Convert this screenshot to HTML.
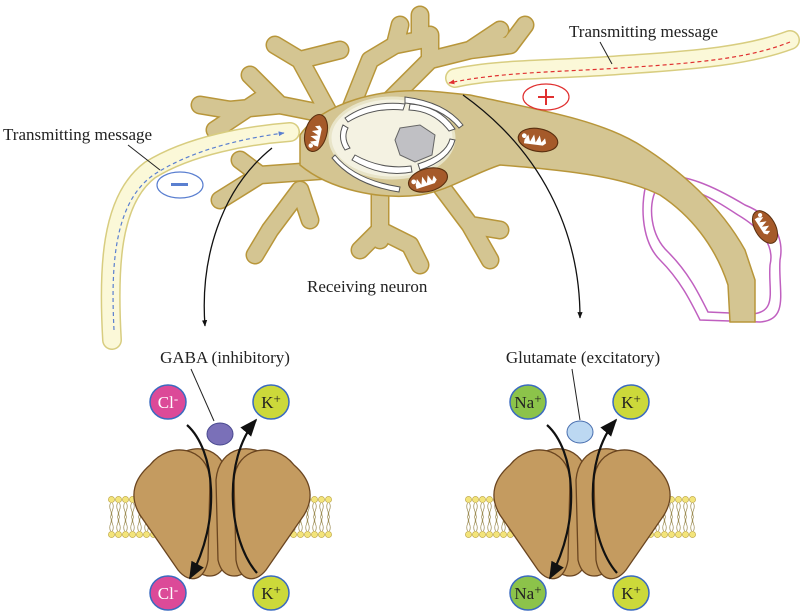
<!DOCTYPE html>
<html><head><meta charset="utf-8"><style>
html,body{margin:0;padding:0;background:#fff;}
svg{display:block;}
text{font-family:"Liberation Serif",serif;}
</style></head><body>
<svg width="800" height="611" viewBox="0 0 800 611" xmlns="http://www.w3.org/2000/svg">
<defs>
<pattern id="head" x="108" y="496" width="7" height="7" patternUnits="userSpaceOnUse">
<circle cx="3.5" cy="3.5" r="3.1" fill="#f3e47a" stroke="#b8a040" stroke-width="0.6"/>
</pattern>
<pattern id="tail" x="108" y="503" width="7" height="28" patternUnits="userSpaceOnUse">
<path d="M2.5,0 q-1.5,3.5 0,7 t0,7 M4.5,0 q1.5,3.5 0,7 t0,7 M2.5,28 q-1.5,-3.5 0,-7 t0,-7 M4.5,28 q1.5,-3.5 0,-7 t0,-7" stroke="#9a8a50" stroke-width="0.7" fill="none"/>
</pattern>
<marker id="ah" viewBox="0 0 10 10" refX="9" refY="5" markerWidth="8" markerHeight="8" orient="auto"><path d="M0,1 L10,5 L0,9 Z" fill="#111"/></marker>
<marker id="ahb" viewBox="0 0 10 10" refX="9" refY="5" markerWidth="5" markerHeight="5" orient="auto"><path d="M0,1 L10,5 L0,9 Z" fill="#111"/></marker>
<marker id="ab" viewBox="0 0 10 10" refX="9" refY="5" markerWidth="5" markerHeight="5" orient="auto"><path d="M0,1 L10,5 L0,9 Z" fill="#5a7fd0"/></marker>
<marker id="ar" viewBox="0 0 10 10" refX="9" refY="5" markerWidth="5" markerHeight="5" orient="auto"><path d="M0,1 L10,5 L0,9 Z" fill="#e03030"/></marker>
<g id="mito"><ellipse cx="0" cy="0" rx="21" ry="12" fill="#a55a2a" stroke="#5a3010" stroke-width="1.2"/><path d="M-14,2 l3,-6 l3,7 l3,-8 l3,8 l3,-8 l3,7 l3,-5 l2,5 l-3,3 l-20,1 z" fill="#fff"/><circle cx="-15" cy="-2" r="2.5" fill="#fff"/></g>
</defs>

<path d="M648,178 C680,168 720,190 745,205 C770,215 785,235 780,260 C778,290 790,320 760,322 L700,320 C690,300 680,280 660,260 C640,240 640,200 648,178 Z" fill="none" stroke="#c060c0" stroke-width="1.5"/>
<path d="M656,190 C685,180 715,200 738,215 C760,228 775,245 770,265 C768,290 778,312 752,314 L708,312 C698,292 688,272 668,252 C650,235 648,205 656,190 Z" fill="none" stroke="#c060c0" stroke-width="1.5"/>
<use href="#mito" transform="translate(765,227) rotate(60) scale(0.85)"/>

<g stroke="#b8963a" fill="#d4c592">
<g fill="none" stroke-linecap="round" stroke-linejoin="round">
<g stroke="#b8963a" stroke-width="19">
<path d="M390,150 L330,115 L280,105 L250,75 M280,105 L230,110 L200,105 M260,100 L215,130 M330,115 L300,60 L275,45 M300,60 L340,50 M350,110 L370,60 L395,45 M395,45 L420,40 M420,40 L420,15 M395,45 L400,25 M390,100 L430,60 L470,50 L510,45 M470,50 L500,30 M510,45 L525,25 M430,60 L430,35 M330,170 L260,175 L220,200 M260,175 L240,160 M300,190 L270,230 L255,255 M300,190 L310,220 M380,190 L380,240 M380,230 L360,250 M380,230 L410,245 L420,265 M440,185 L470,225 L490,260 M470,225 L500,230"/>
</g>
<g stroke="#d4c592" stroke-width="16">
<path d="M390,150 L330,115 L280,105 L250,75 M280,105 L230,110 L200,105 M260,100 L215,130 M330,115 L300,60 L275,45 M300,60 L340,50 M350,110 L370,60 L395,45 M395,45 L420,40 M420,40 L420,15 M395,45 L400,25 M390,100 L430,60 L470,50 L510,45 M470,50 L500,30 M510,45 L525,25 M430,60 L430,35 M330,170 L260,175 L220,200 M260,175 L240,160 M300,190 L270,230 L255,255 M300,190 L310,220 M380,190 L380,240 M380,230 L360,250 M380,230 L410,245 L420,265 M440,185 L470,225 L490,260 M470,225 L500,230"/>
</g>
</g>
<path d="M300,135 C320,105 380,85 440,92 L470,95 C540,110 600,120 640,145 C680,170 720,205 745,250 L755,280 L755,322 L730,322 L728,285 C715,245 690,215 660,195 C620,175 560,170 500,165 C470,175 450,190 420,195 C380,200 330,190 300,165 Z" stroke-width="1.5"/>
</g>
<ellipse cx="392" cy="138" rx="62" ry="40" fill="#f4f2e2" stroke="#e8e4c8" stroke-width="3"/>
<g fill="#fff" stroke="#555" stroke-width="1">
<path d="M345,118 q25,-18 60,-14 l-2,6 q-30,-3 -55,12 z"/>
<path d="M410,104 q30,2 45,25 l-6,2 q-15,-20 -40,-21 z"/>
<path d="M455,140 q-5,20 -35,30 l-2,-6 q28,-9 32,-25 z"/>
<path d="M412,172 q-30,6 -60,-12 l3,-5 q27,15 56,11 z"/>
<path d="M345,150 q-8,-12 -2,-25 l5,3 q-5,10 2,20 z"/>
<path d="M405,97 q40,5 58,28 l-4,3 q-18,-22 -54,-25 z"/>
<path d="M335,155 q20,25 65,32 l-1,5 q-45,-7 -67,-34 z"/>
</g>
<path d="M400,128 L420,125 L435,135 L432,155 L415,162 L400,155 L395,140 Z" fill="#c0c0c4" stroke="#666" stroke-width="1"/>
<use href="#mito" transform="translate(316,133) rotate(-75) scale(0.9)"/>
<use href="#mito" transform="translate(428,180) rotate(-15) scale(0.95)"/>
<use href="#mito" transform="translate(538,140) rotate(10) scale(0.95)"/>

<path d="M112,340 C108,270 110,200 150,170 C190,145 250,135 290,132" fill="none" stroke="#d8cd80" stroke-width="20" stroke-linecap="round"/>
<path d="M112,340 C108,270 110,200 150,170 C190,145 250,135 290,132" fill="none" stroke="#fbf8d8" stroke-width="17" stroke-linecap="round"/>
<path d="M114,330 C111,270 113,205 152,176 C190,150 245,138 284,133" fill="none" stroke="#5a7fd0" stroke-width="1.2" stroke-dasharray="4,3" marker-end="url(#ab)"/>
<path d="M455,78 C500,68 560,70 620,65 C700,60 750,55 790,40" fill="none" stroke="#d8cd80" stroke-width="20" stroke-linecap="round"/>
<path d="M455,78 C500,68 560,70 620,65 C700,60 750,55 790,40" fill="none" stroke="#fbf8d8" stroke-width="17" stroke-linecap="round"/>
<path d="M790,42 C750,58 700,63 620,68 C560,72 500,72 449,83" fill="none" stroke="#e03030" stroke-width="1.2" stroke-dasharray="4,3" marker-end="url(#ar)"/>

<ellipse cx="180" cy="185" rx="23" ry="13" fill="#fff" stroke="#5a7fd0" stroke-width="1.2"/>
<rect x="171" y="183" width="17" height="3" fill="#5a7fd0"/>
<ellipse cx="546" cy="97" rx="23" ry="13" fill="#fff" stroke="#e03030" stroke-width="1.2"/>
<path d="M538,97 h16 M546,89 v16" stroke="#e03030" stroke-width="2"/>

<text x="3" y="140" font-size="17" fill="#222">Transmitting message</text>
<path d="M128,145 L160,170" stroke="#222" stroke-width="1"/>
<text x="569" y="37" font-size="17" fill="#222">Transmitting message</text>
<path d="M600,42 L612,64" stroke="#222" stroke-width="1"/>
<text x="307" y="292" font-size="17" fill="#222">Receiving neuron</text>

<path d="M272,148 C220,190 200,260 205,326" fill="none" stroke="#111" stroke-width="1.3" marker-end="url(#ahb)"/>
<path d="M463,95 C540,150 580,230 580,318" fill="none" stroke="#111" stroke-width="1.3" marker-end="url(#ahb)"/>

<rect x="108" y="503" width="224" height="28" fill="url(#tail)"/>
<rect x="108" y="496" width="224" height="7" fill="url(#head)"/>
<rect x="108" y="531" width="224" height="7" fill="url(#head)"/>
<rect x="465" y="503" width="231" height="28" fill="url(#tail)"/>
<rect x="465" y="496" width="231" height="7" fill="url(#head)"/>
<rect x="465" y="531" width="231" height="7" fill="url(#head)"/>

<g id="ch">
<g fill="#c49b60" stroke="#6a4520" stroke-width="1.3">
<path d="M170,462 C190,440 225,445 228,480 L226,560 C222,578 208,580 195,570 L160,525 C150,505 155,478 170,462 Z"/>
<path d="M150,465 C170,440 208,447 210,480 L208,560 C205,580 190,585 178,570 L140,515 C128,495 135,478 150,465 Z"/>
<path d="M274,462 C254,440 219,445 216,480 L218,560 C222,578 236,580 249,570 L284,525 C294,505 289,478 274,462 Z"/>
<path d="M294,465 C274,440 236,447 234,480 L236,560 C239,580 254,585 266,570 L304,515 C316,495 309,478 294,465 Z"/>
</g>
</g>
<use href="#ch" transform="translate(360,0)"/>

<path d="M187,425 C215,450 222,520 190,578" fill="none" stroke="#111" stroke-width="2.2" marker-end="url(#ah)"/>
<path d="M257,573 C228,540 222,460 256,420" fill="none" stroke="#111" stroke-width="2.2" marker-end="url(#ah)"/>
<path d="M547,425 C575,450 582,520 550,578" fill="none" stroke="#111" stroke-width="2.2" marker-end="url(#ah)"/>
<path d="M617,573 C588,540 582,460 616,420" fill="none" stroke="#111" stroke-width="2.2" marker-end="url(#ah)"/>

<text x="225" y="363" font-size="17" fill="#222" text-anchor="middle">GABA (inhibitory)</text>
<text x="583" y="363" font-size="17" fill="#222" text-anchor="middle">Glutamate (excitatory)</text>
<path d="M191,369 L214,421" stroke="#222" stroke-width="1"/>
<path d="M572,369 L580,420" stroke="#222" stroke-width="1"/>

<ellipse cx="220" cy="434" rx="13" ry="11" fill="#7a70b8" stroke="#4a4a90" stroke-width="1"/>
<ellipse cx="580" cy="432" rx="13" ry="11" fill="#bcd8f2" stroke="#4a70b0" stroke-width="1"/>

<g stroke="#3a6ac0" stroke-width="1.5">
<ellipse cx="168" cy="402" rx="18" ry="17" fill="#dc4a98"/>
<ellipse cx="271" cy="402" rx="18" ry="17" fill="#ccd93a"/>
<ellipse cx="168" cy="593" rx="18" ry="17" fill="#dc4a98"/>
<ellipse cx="271" cy="593" rx="18" ry="17" fill="#ccd93a"/>
<ellipse cx="528" cy="402" rx="18" ry="17" fill="#8cc34a"/>
<ellipse cx="631" cy="402" rx="18" ry="17" fill="#ccd93a"/>
<ellipse cx="528" cy="593" rx="18" ry="17" fill="#8cc34a"/>
<ellipse cx="631" cy="593" rx="18" ry="17" fill="#ccd93a"/>
</g>
<g font-size="17" text-anchor="middle">
<text x="168" y="408" fill="#fff">Cl<tspan font-size="13" dy="-5">-</tspan></text>
<text x="168" y="599" fill="#fff">Cl<tspan font-size="13" dy="-5">-</tspan></text>
<text x="271" y="408" fill="#222">K<tspan font-size="13" dy="-5">+</tspan></text>
<text x="271" y="599" fill="#222">K<tspan font-size="13" dy="-5">+</tspan></text>
<text x="631" y="408" fill="#222">K<tspan font-size="13" dy="-5">+</tspan></text>
<text x="631" y="599" fill="#222">K<tspan font-size="13" dy="-5">+</tspan></text>
<text x="528" y="408" fill="#222">Na<tspan font-size="13" dy="-5">+</tspan></text>
<text x="528" y="599" fill="#222">Na<tspan font-size="13" dy="-5">+</tspan></text>
</g>
</svg>
</body></html>
